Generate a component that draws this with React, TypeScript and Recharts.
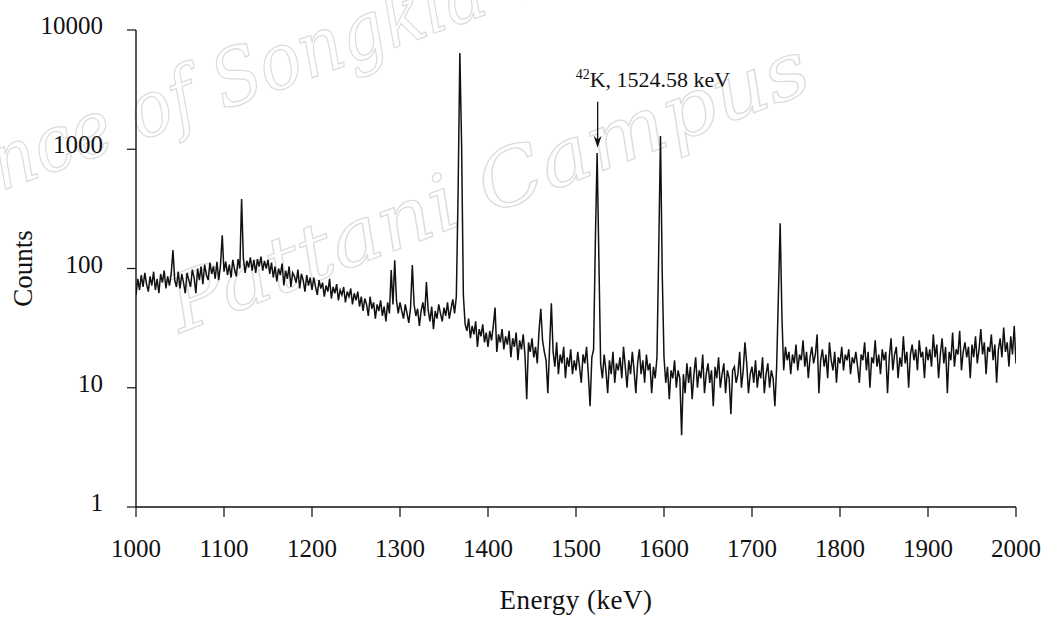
import React from "react";
import {
  LineChart,
  Line,
  XAxis,
  YAxis,
  Label,
  ReferenceDot,
} from "recharts";

// spectrum, one value per 2 keV channel starting at 1000 keV
const startEnergy = 1000;
const keVPerChannel = 2;

const counts = [
  // 1000-1048
  60, 82, 66, 88, 70, 92, 74, 64, 86, 72, 94, 66, 82, 62, 90, 76, 96, 68, 86, 72, 90, 143, 80, 70, 94,
  // 1050-1098
  68, 90, 76, 62, 92, 80, 70, 98, 84, 62, 100, 80, 104, 74, 108, 88, 80, 112, 90, 104, 82, 114, 80, 106, 190,
  // 1100-1148
  94, 114, 88, 108, 84, 118, 98, 86, 120, 100, 383, 122, 92, 116, 102, 124, 96, 118, 92, 120, 104, 126, 96, 116, 100,
  // 1150-1198
  118, 90, 112, 84, 104, 78, 100, 88, 110, 72, 96, 82, 104, 70, 92, 86, 76, 98, 68, 90, 80, 64, 88, 72, 84,
  // 1200-1248
  66, 84, 70, 60, 80, 68, 76, 58, 72, 64, 82, 56, 70, 62, 74, 54, 66, 60, 70, 52, 64, 58, 68, 50, 62,
  // 1250-1298
  54, 64, 48, 58, 44, 56, 50, 40, 58, 46, 52, 38, 50, 44, 54, 40, 48, 36, 52, 42, 97, 50, 117, 54, 42,
  // 1300-1348
  52, 44, 38, 50, 42, 35, 47, 107, 50, 40, 46, 33, 44, 52, 40, 77, 45, 36, 48, 31, 44, 38, 50, 42, 36,
  // 1350-1398
  47, 40, 52, 38, 46, 55, 42, 58, 420, 6400, 1100, 60, 34, 30, 38, 26, 33, 28, 36, 22, 31, 27, 34, 24, 29,
  // 1400-1448
  22, 30, 25, 33, 47, 20, 28, 24, 31, 21, 27, 23, 30, 18, 26, 22, 29, 17, 25, 21, 28, 19, 8, 24, 20,
  // 1450-1498
  26, 18, 22, 16, 30, 46, 25, 20, 17, 9, 22, 51, 20, 15, 24, 13, 19, 16, 22, 12, 18, 15, 21, 13, 17,
  // 1500-1548
  14, 20, 15, 11, 19, 16, 22, 13, 7, 18, 21, 170, 930, 120, 16, 12, 19, 14, 9, 17, 13, 20, 11, 16, 14,
  // 1550-1598
  18, 12, 22, 15, 10, 17, 13, 20, 14, 9, 16, 21, 13, 17, 11, 19, 14, 16, 9, 15, 12, 18, 140, 1290, 90,
  // 1600-1648
  18, 11, 15, 8, 14, 12, 17, 10, 14, 12, 4, 13, 9, 16, 11, 15, 8, 13, 18, 10, 14, 12, 19, 9, 13,
  // 1650-1698
  16, 11, 14, 7, 15, 12, 18, 10, 13, 16, 9, 14, 12, 6, 14, 15, 11, 13, 20, 10, 14, 24, 16, 9, 13,
  // 1700-1748
  15, 11, 17, 10, 14, 12, 18, 9, 13, 16, 10, 14, 12, 7, 15, 60, 240, 40, 14, 22, 17, 20, 13, 19, 16,
  // 1750-1798
  23, 14, 19, 17, 25, 15, 20, 12, 18, 22, 16, 19, 28, 9, 17, 21, 15, 19, 12, 24, 17, 14, 20, 11, 18,
  // 1800-1848
  16, 22, 14, 19, 17, 21, 13, 18, 16, 20, 15, 11, 19, 17, 24, 14, 20, 10, 18, 16, 25, 15, 19, 13, 21,
  // 1850-1898
  17, 20, 9, 18, 26, 14, 19, 22, 12, 18, 15, 27, 16, 20, 10, 19, 23, 17, 21, 14, 25, 18, 20, 12, 22,
  // 1900-1948
  17, 21, 15, 28, 18, 23, 12, 19, 26, 16, 22, 9, 20, 17, 29, 15, 21, 19, 30, 14, 20, 24, 18, 22, 12,
  // 1950-2000
  23, 18, 27, 16, 21, 31, 19, 24, 13, 22, 20, 28, 17, 23, 11, 21, 26, 18, 32, 20, 24, 15, 27, 19, 33,
  16,
];

const xTicks = [1000, 1100, 1200, 1300, 1400, 1500, 1600, 1700, 1800, 1900, 2000];
const yTicks = [1, 10, 100, 1000, 10000];

const peakEnergy = 1524.58;
const arrowTipCounts = 1030;
const peakIsotopeMass = "42";
const peakText = "K, 1524.58 keV";

const data = counts.map((c, i) => ({
  energy: startEnergy + i * keVPerChannel,
  counts: c,
}));

const serif = "Liberation Serif";

const XTick = (props: any) => {
  const { x, y, payload } = props;
  return (
    <text x={x} y={y + 18} textAnchor="middle" fontFamily={serif} fontSize={25} fill="#111">
      {payload.value}
    </text>
  );
};

const YTick = (props: any) => {
  const { x, y, payload } = props;
  return (
    <text x={x} y={y + 4} textAnchor="end" fontFamily={serif} fontSize={25} fill="#111">
      {payload.value}
    </text>
  );
};

const CountsLabel = (props: any) => {
  const vb = props.viewBox;
  const cy = vb.y + vb.height / 2;
  return (
    <text
      x={32}
      y={cy}
      transform={`rotate(-90 32 ${cy})`}
      textAnchor="middle"
      fontFamily={serif}
      fontSize={27}
      fill="#111"
    >
      Counts
    </text>
  );
};

const EnergyLabel = (props: any) => {
  const vb = props.viewBox;
  return (
    <text
      x={vb.x + vb.width / 2}
      y={609}
      textAnchor="middle"
      fontFamily={serif}
      fontSize={27}
      letterSpacing={0.5}
      fill="#111"
    >
      Energy (keV)
    </text>
  );
};

const PeakArrow = (props: any) => {
  const { cx, cy } = props;
  if (cx == null || cy == null) return null;
  return (
    <g>
      <line x1={cx} y1={cy - 46} x2={cx} y2={cy - 4} stroke="#111" strokeWidth={1.3} />
      <path
        d={`M${cx},${cy} L${cx - 4},${cy - 12} L${cx},${cy - 8} L${cx + 4},${cy - 12} Z`}
        fill="#111"
      />
      <text x={cx - 22} y={cy - 61} fontFamily={serif} fontSize={22} fill="#111">
        <tspan fontSize={14} dy={-8}>
          {peakIsotopeMass}
        </tspan>
        <tspan dy={8}>{peakText}</tspan>
      </text>
    </g>
  );
};

const Watermark = () => (
  <svg
    width={1047}
    height={619}
    style={{ position: "absolute", left: 0, top: 0 }}
  >
    <g
      fontFamily="DejaVu Serif"
      fontStyle="italic"
      fontSize={78}
      fill="#ffffff"
      stroke="#dcdcdc"
      strokeWidth={1.3}
    >
      <text
        transform="translate(-95 226) rotate(-20)"
        textLength={1010}
        lengthAdjust="spacingAndGlyphs"
      >
        Prince of Songkla University
      </text>
      <text
        transform="translate(180 333) rotate(-21)"
        textLength={680}
        lengthAdjust="spacingAndGlyphs"
      >
        Pattani Campus
      </text>
    </g>
  </svg>
);

export default function App() {
  return (
    <div
      style={{
        position: "absolute",
        left: 0,
        top: 0,
        width: 1047,
        height: 619,
        background: "#fff",
      }}
    >
      <Watermark />
      <div style={{ position: "absolute", left: 0, top: 0 }}>
        <LineChart
          width={1047}
          height={619}
          data={data}
          margin={{ top: 30, right: 31, bottom: 0, left: 0 }}
        >
          <XAxis
            dataKey="energy"
            type="number"
            domain={[1000, 2000]}
            ticks={xTicks}
            interval={0}
            height={112}
            tickSize={10}
            tickMargin={22}
            tick={<XTick />}
            axisLine={{ stroke: "#111", strokeWidth: 1.4 }}
            tickLine={{ stroke: "#111", strokeWidth: 1.2 }}
            allowDataOverflow
          >
            <Label content={EnergyLabel} />
          </XAxis>
          <YAxis
            dataKey="counts"
            scale="log"
            domain={[1, 10000]}
            ticks={yTicks}
            interval={0}
            width={136}
            tickSize={9}
            tickMargin={24}
            tick={<YTick />}
            axisLine={{ stroke: "#111", strokeWidth: 1.4 }}
            tickLine={{ stroke: "#111", strokeWidth: 1.2 }}
            allowDataOverflow
          >
            <Label content={CountsLabel} />
          </YAxis>
          <Line
            type="linear"
            dataKey="counts"
            stroke="#111"
            strokeWidth={1.5}
            dot={false}
            activeDot={false}
            isAnimationActive={false}
          />
          <ReferenceDot
            x={peakEnergy}
            y={arrowTipCounts}
            r={0}
            shape={PeakArrow}
          />
        </LineChart>
      </div>
    </div>
  );
}
